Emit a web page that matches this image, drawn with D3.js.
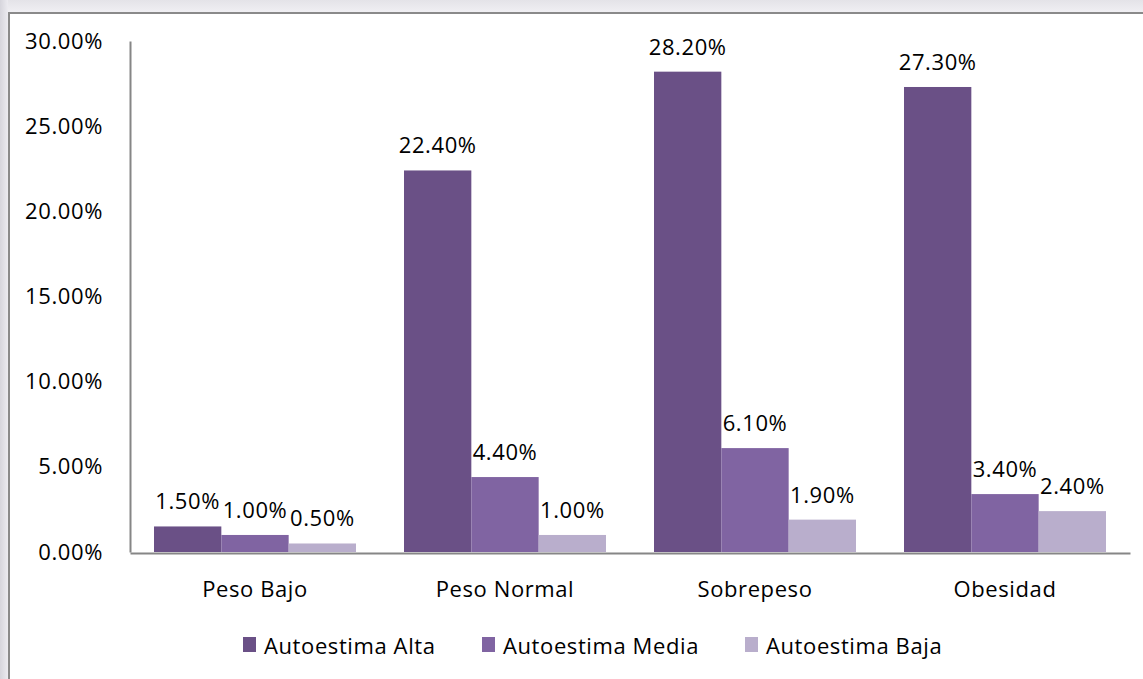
<!DOCTYPE html>
<html>
<head>
<meta charset="utf-8">
<script src="https://cdn.jsdelivr.net/npm/d3@7"></script>
<style>
  html, body { margin: 0; padding: 0; background: #ffffff; }
  svg { display: block; }
  text { font-family: "Open Sans", "Noto Sans", sans-serif; fill: #000; letter-spacing: 0.6px; }
</style>
</head>
<body>
<svg id="chart" width="1143" height="679"></svg>
<script>
// Categories, series and values
const categories = ["Peso Bajo", "Peso Normal", "Sobrepeso", "Obesidad"];
const seriesNames = ["Autoestima Alta", "Autoestima Media", "Autoestima Baja"];
const alta  = [1.5, 22.4, 28.2, 27.3];
const media = [1.0, 4.4, 6.1, 3.4];
const baja  = [0.5, 1.0, 1.9, 2.4];
const yTicks = [0, 5, 10, 15, 20, 25, 30];
const seriesColors = ["#6a5086", "#8064a2", "#b9aecc"];

const seriesValues = [alta, media, baja];

const svg = d3.select("#chart");
const W = 1143, H = 679;
const FS = 22;

// Soft grey frame shadow around the chart box
const defs = svg.append("defs");
const gl = defs.append("linearGradient").attr("id", "shadeL").attr("x1", 0).attr("x2", 1);
gl.append("stop").attr("offset", 0).attr("stop-color", "#d6d5dc");
gl.append("stop").attr("offset", 1).attr("stop-color", "#ecebf0");
const gt = defs.append("linearGradient").attr("id", "shadeT").attr("x1", 0).attr("x2", 0).attr("y1", 0).attr("y2", 1);
gt.append("stop").attr("offset", 0).attr("stop-color", "#e4e3e8");
gt.append("stop").attr("offset", 1).attr("stop-color", "#f0eff3");

svg.append("rect").attr("x", 0).attr("y", 0).attr("width", W).attr("height", 12).attr("fill", "url(#shadeT)");
svg.append("rect").attr("x", 0).attr("y", 0).attr("width", 8).attr("height", H).attr("fill", "url(#shadeL)");

// Chart box
svg.append("rect")
  .attr("x", 9).attr("y", 13)
  .attr("width", W + 10).attr("height", H + 10)
  .attr("fill", "#ffffff")
  .attr("stroke", "#8a8a8a").attr("stroke-width", 2);

// Scales
const x0 = d3.scaleBand()
  .domain(categories)
  .range([130, 1130])
  .paddingInner(0.192)
  .paddingOuter(0.096);

const x1 = d3.scaleBand()
  .domain(seriesNames)
  .range([0, x0.bandwidth()])
  .padding(0);

const y = d3.scaleLinear()
  .domain([0, 30])
  .range([552, 41]);

// Bars
const data = [];
categories.forEach((c, i) => {
  seriesNames.forEach((s, j) => {
    data.push({ cat: c, series: s, value: seriesValues[j][i], color: seriesColors[j] });
  });
});

const g = svg.append("g");
g.selectAll("rect.bar")
  .data(data)
  .join("rect")
  .attr("class", "bar")
  .attr("x", d => x0(d.cat) + x1(d.series))
  .attr("y", d => y(d.value))
  .attr("width", x1.bandwidth())
  .attr("height", d => y(0) - y(d.value))
  .attr("fill", d => d.color);

// Value labels
g.selectAll("text.val")
  .data(data)
  .join("text")
  .attr("class", "val")
  .attr("x", d => x0(d.cat) + x1(d.series) + x1.bandwidth() / 2)
  .attr("y", d => y(d.value) - 17)
  .attr("text-anchor", "middle")
  .attr("font-size", FS)
  .text(d => d.value.toFixed(2) + "%");

// Y axis
const yAxis = d3.axisLeft(y)
  .tickValues(yTicks)
  .tickSize(0)
  .tickPadding(27)
  .tickFormat(d => d.toFixed(2) + "%");
const ya = svg.append("g").attr("transform", "translate(130,0)").call(yAxis);
ya.select(".domain").attr("stroke", "#868686").attr("stroke-width", 2);
ya.selectAll("text").attr("font-size", FS).attr("font-family", "\"Open Sans\", sans-serif").attr("fill", "#000");

// X axis
const xAxis = d3.axisBottom(x0).tickSize(0).tickPadding(28);
const xa = svg.append("g").attr("transform", "translate(0,553)").call(xAxis);
xa.select(".domain").attr("stroke", "#868686").attr("stroke-width", 2);
xa.selectAll("text").attr("font-size", FS).attr("font-family", "\"Open Sans\", sans-serif").attr("fill", "#000");

// Legend
const legendX = [243, 482, 745];
const lg = svg.append("g");
seriesNames.forEach((s, j) => {
  lg.append("rect")
    .attr("x", legendX[j]).attr("y", 637)
    .attr("width", 13).attr("height", 15)
    .attr("fill", seriesColors[j]);
  lg.append("text")
    .attr("x", legendX[j] + 21).attr("y", 654)
    .attr("font-size", FS)
    .text(s);
});
</script>
</body>
</html>
